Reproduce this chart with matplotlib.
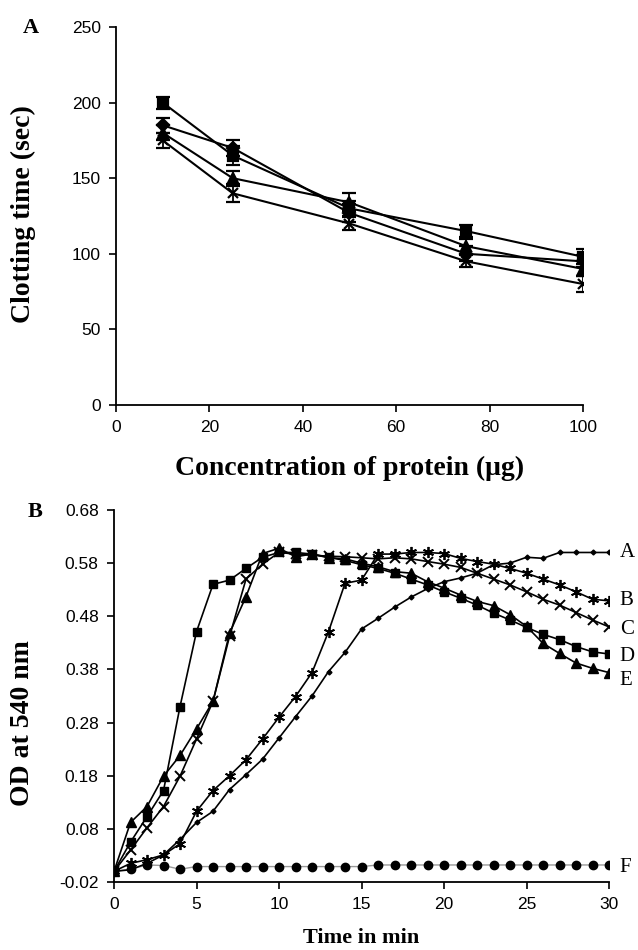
import matplotlib
matplotlib.use("Agg")
import matplotlib.pyplot as plt

# ---- panel A: clotting time vs protein amount ----
protein_ug = [10, 25, 50, 75, 100]
clot_square = [200, 165, 130, 115, 98]
clot_diamond = [185, 170, 127, 100, 95]
clot_triangle = [180, 150, 134, 105, 90]
clot_cross = [175, 140, 120, 95, 80]
err_square = [4, 6, 5, 4, 5]
err_diamond = [5, 5, 6, 5, 4]
err_triangle = [5, 5, 6, 5, 5]
err_cross = [5, 6, 4, 4, 5]

clot_yticks = [0, 50, 100, 150, 200, 250]
clot_xticks = [0, 20, 40, 60, 80, 100]

# ---- panel B: OD at 540 nm vs time ----
minutes = list(range(31))
od_a = [0.0, 0.003, 0.015, 0.031, 0.06, 0.092, 0.113, 0.154, 0.182, 0.211, 0.251,
        0.291, 0.33, 0.376, 0.412, 0.456, 0.476, 0.497, 0.516, 0.532, 0.545, 0.552,
        0.561, 0.577, 0.58, 0.591, 0.589, 0.60, 0.60, 0.60, 0.60]
od_b = [0.0, 0.015, 0.022, 0.031, 0.052, 0.113, 0.152, 0.18, 0.21, 0.249, 0.29,
        0.329, 0.374, 0.451, 0.542, 0.548, 0.597, 0.597, 0.60, 0.60, 0.598, 0.589,
        0.583, 0.578, 0.57, 0.561, 0.55, 0.539, 0.526, 0.512, 0.509]
od_c = [0.0, 0.04, 0.082, 0.122, 0.179, 0.249, 0.32, 0.442, 0.55, 0.578, 0.60,
        0.597, 0.595, 0.593, 0.592, 0.59, 0.588, 0.59, 0.588, 0.583, 0.578, 0.572,
        0.561, 0.55, 0.539, 0.526, 0.512, 0.501, 0.487, 0.473, 0.46]
od_d = [0.0, 0.055, 0.103, 0.152, 0.31, 0.451, 0.54, 0.548, 0.57, 0.591, 0.60,
        0.60, 0.597, 0.591, 0.585, 0.577, 0.57, 0.561, 0.55, 0.539, 0.526, 0.514,
        0.501, 0.486, 0.473, 0.459, 0.446, 0.436, 0.423, 0.413, 0.409]
od_e = [0.0, 0.092, 0.122, 0.179, 0.218, 0.268, 0.32, 0.448, 0.517, 0.598, 0.608,
        0.592, 0.597, 0.59, 0.588, 0.58, 0.573, 0.564, 0.561, 0.545, 0.533, 0.52,
        0.508, 0.5, 0.483, 0.461, 0.429, 0.41, 0.392, 0.382, 0.374]
od_f = [0.0, 0.004, 0.012, 0.011, 0.004, 0.009, 0.009, 0.009, 0.009, 0.009, 0.009,
        0.009, 0.009, 0.009, 0.009, 0.009, 0.012, 0.012, 0.012, 0.012, 0.012, 0.012,
        0.012, 0.012, 0.012, 0.012, 0.012, 0.012, 0.012, 0.012, 0.012]
series_names = ["A", "B", "C", "D", "E", "F"]
name_y = [0.60, 0.51, 0.455, 0.404, 0.36, 0.008]

od_yticks = [-0.02, 0.08, 0.18, 0.28, 0.38, 0.48, 0.58, 0.68]
od_yticklabels = ["-0.02", "0.08", "0.18", "0.28", "0.38", "0.48", "0.58", "0.68"]
od_xticks = [0, 5, 10, 15, 20, 25, 30]

SANS = "Liberation Sans"
SERIF = "Liberation Serif"


def style_axes(ax):
    for side in ("top", "right"):
        ax.spines[side].set_visible(False)
    for side in ("left", "bottom"):
        ax.spines[side].set_linewidth(1.3)
    ax.tick_params(direction="out", length=5, width=1.2, labelsize=12.5, pad=6)
    for lab in ax.get_xticklabels() + ax.get_yticklabels():
        lab.set_fontfamily(SANS)


fig = plt.figure(figsize=(6.38, 9.5), dpi=100)

# panel A
ax1 = fig.add_axes([0.1818, 0.5737, 0.732, 0.3979])
for vals, errs, mk in [(clot_square, err_square, "s"),
                       (clot_diamond, err_diamond, "D"),
                       (clot_triangle, err_triangle, "^"),
                       (clot_cross, err_cross, "x")]:
    ax1.errorbar(protein_ug, vals, yerr=errs, color="black", lw=1.5,
                 marker=mk, ms=7.5 if mk != "D" else 6.5, mew=1.6,
                 capsize=5, capthick=1.5, elinewidth=1.3)
ax1.set_xlim(0, 100)
ax1.set_ylim(0, 250)
ax1.set_xticks(clot_xticks)
ax1.set_yticks(clot_yticks)
style_axes(ax1)
ax1.set_xlabel("Concentration of protein (\u03bcg)", family=SERIF,
               fontweight="bold", fontsize=20)
ax1.set_ylabel("Clotting time (sec)", family=SERIF, fontweight="bold", fontsize=20)
ax1.xaxis.set_label_coords(0.5, -0.135)
ax1.yaxis.set_label_coords(-0.172, 0.505)

# panel B
ax2 = fig.add_axes([0.1787, 0.0716, 0.7759, 0.3916])
ax2.plot(minutes, od_f, color="#9a9a9a", lw=1.0, marker="o", ms=6,
         mfc="black", mec="black", zorder=2)
ax2.plot(minutes, od_a, color="black", lw=1.2, marker="D", ms=2.5, zorder=3)
ax2.plot(minutes, od_b, color="black", lw=1.2, marker=(6, 2, 0), ms=8, mew=1.3, zorder=3)
ax2.plot(minutes, od_c, color="black", lw=1.2, marker="x", ms=6.5, mew=1.4, zorder=3)
ax2.plot(minutes, od_d, color="black", lw=1.2, marker="s", ms=6, zorder=3)
ax2.plot(minutes, od_e, color="black", lw=1.2, marker="^", ms=6.5, zorder=3)
ax2.set_xlim(0, 30)
ax2.set_ylim(-0.02, 0.68)
ax2.set_xticks(od_xticks)
ax2.set_yticks(od_yticks)
ax2.set_yticklabels(od_yticklabels)
style_axes(ax2)
for name, yv in zip(series_names, name_y):
    ax2.text(30.65, yv, name, family=SERIF, fontsize=15, va="center",
             ha="left", clip_on=False)
ax2.set_xlabel("Time in min", family=SERIF, fontweight="bold", fontsize=16)
ax2.set_ylabel("OD at 540 nm", family=SERIF, fontweight="bold", fontsize=20)
ax2.xaxis.set_label_coords(0.5, -0.125)
ax2.yaxis.set_label_coords(-0.16, 0.427)

fig.text(0.048, 0.971, "A", family=SERIF, fontweight="bold", fontsize=16,
         ha="center", va="center")
fig.text(0.055, 0.461, "B", family=SERIF, fontweight="bold", fontsize=16,
         ha="center", va="center")

fig.savefig("out.png", dpi=100)
